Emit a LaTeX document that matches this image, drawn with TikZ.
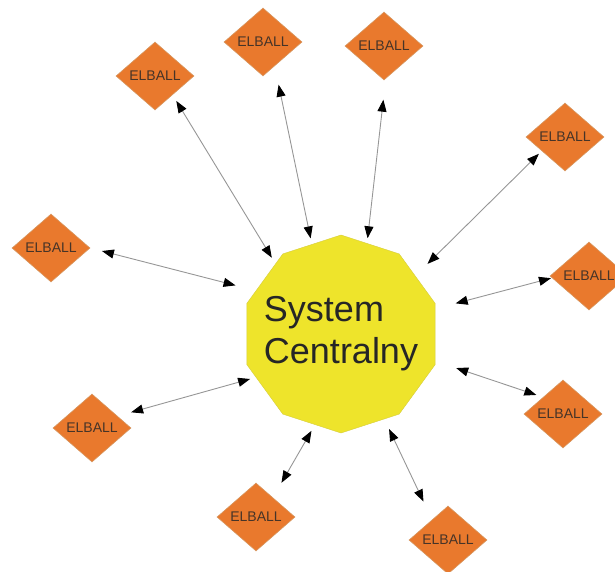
\documentclass[tikz,border=0pt]{standalone}
\usepackage{fontspec}
\setmainfont{Liberation Sans}
\usetikzlibrary{positioning, arrows.meta, shapes.geometric}
\definecolor{elorange}{RGB}{233,121,45}
\definecolor{eledge}{RGB}{214,150,95}
\definecolor{eltext}{RGB}{70,52,40}
\definecolor{sysyellow}{RGB}{238,228,43}
\definecolor{sysedge}{RGB}{214,205,60}
\definecolor{wire}{RGB}{150,150,150}
\tikzset{
  elball/.style={
    draw=eledge, fill=elorange, diamond, line width=0.6pt,
    minimum width=78pt, minimum height=68pt, inner sep=0pt,
    text=eltext, font=\fontsize{14}{16}\selectfont
  },
  central/.style={
    draw=sysedge, fill=sysyellow, regular polygon, regular polygon sides=10,
    regular polygon rotate=18, minimum size=198pt, inner sep=0pt
  },
  centraltext/.style={
    align=left, text=black!85, font=\fontsize{36}{42}\selectfont
  },
  link/.style 2 args={
    draw=wire, line width=0.9pt,
    {Triangle[length=12pt,width=9pt,black]}-{Triangle[length=12pt,width=9pt,black]},
    shorten <=#1pt, shorten >=#2pt
  }
}

\begin{document}
\begin{tikzpicture}[x=1pt,y=-1pt]
    \useasboundingbox (0,0) rectangle (615,571);

    \node[central, label={[centraltext]center:System\\Centralny}] (sys) at (341,334) {};

    \node[elball] (e1)  at (155,76)  {ELBALL};
    \node[elball] (e2)  at (263,42)  {ELBALL};
    \node[elball] (e3)  at (384,46)  {ELBALL};
    \node[elball] (e4)  at (565,137) {ELBALL};
    \node[elball] (e5)  at (51,248)  {ELBALL};
    \node[elball] (e6)  at (589,276) {ELBALL};
    \node[elball] (e7)  at (92,428)  {ELBALL};
    \node[elball] (e8)  at (563,414) {ELBALL};
    \node[elball] (e9)  at (256,517) {ELBALL};
    \node[elball] (e10) at (448,540) {ELBALL};

    \draw
      (e1.-47)  edge[link={7}{7}]    (sys.133)
      (e2.-64)  edge[link={19}{6}]   (sys.108)
      (e3.-87)  edge[link={21}{5}]   (sys.74)
      (e4.-149) edge[link={4}{17}]   (sys.38)
      (e5.0)    edge[link={12}{21}]  (sys.153)
      (e6.183)  edge[link={1}{21}]   (sys.15)
      (e7.25)   edge[link={14}{6}]   (sys.-153)
      (e8.140)  edge[link={7}{22}]   (sys.-16)
      (e9.49)   edge[link={17}{7}]   (sys.-106)
      (e10.128) edge[link={20}{11}]  (sys.-63);
\end{tikzpicture}
\end{document}
